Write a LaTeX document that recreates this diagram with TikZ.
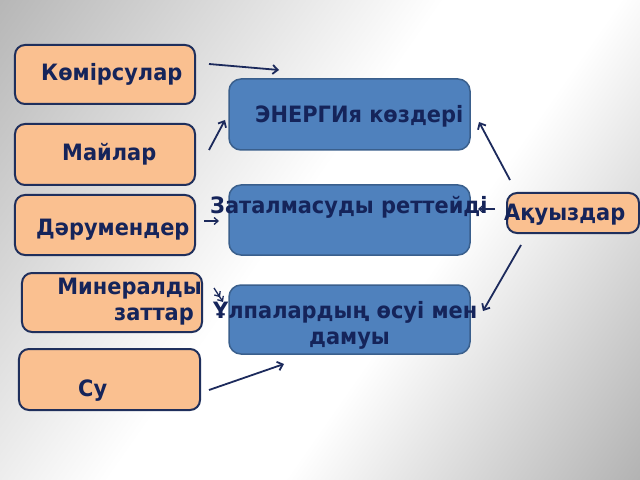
\documentclass[tikz,border=0pt]{standalone}
\usepackage{fontspec}
\setmainfont{DejaVu Sans}[FakeStretch=0.93]
\usetikzlibrary{arrows.meta}
\definecolor{txt}{HTML}{15245A}
\definecolor{peach}{HTML}{FAC090}
\definecolor{peachline}{HTML}{1F2F5C}
\definecolor{bluefill}{HTML}{4F81BD}
\definecolor{blueline}{HTML}{3A5F8C}
\definecolor{arr}{HTML}{1C2A5C}
\definecolor{bgA}{HTML}{B4B4B4}
\definecolor{bgB}{HTML}{9C9C9C}
\pgfdeclarehorizontalshading{bgband}{100bp}{color(0bp)=(bgA); color(25bp)=(bgA); color(46bp)=(white); color(54bp)=(white); color(75bp)=(bgB); color(100bp)=(bgB)}
\begin{document}
\begin{tikzpicture}[x=1bp,y=-1bp,
  pbox/.style={draw=peachline, line width=2bp, fill=peach, rounded corners=10bp, inner sep=0pt},
  bbox/.style={draw=blueline, line width=1.5bp, fill=bluefill, rounded corners=12bp, inner sep=0pt},
  lbl/.style={text=txt, font=\fontsize{22.5bp}{26bp}\selectfont\bfseries, inner sep=0pt},
  con/.style={draw=arr, line width=1.8bp, -{Straight Barb[length=5bp,width=9bp]}},
  smallcon/.style={draw=arr, line width=1.3bp, -{Straight Barb[length=4bp,width=7bp]}}]
\useasboundingbox (0,0) rectangle (640,480);
\begin{scope}
\clip (0,0) rectangle (640,480);
\begin{scope}[transform canvas={rotate around={-35:(350,260)}}]
\shade[shading=bgband] (-100,-190) rectangle (800,710);
\end{scope}
\end{scope}
% boxes
\node[pbox, minimum width=180bp, minimum height=59bp] (k) at (105,74.5) {};
\node[pbox, minimum width=180bp, minimum height=61bp] (m) at (105,154.5) {};
\node[pbox, minimum width=180bp, minimum height=60bp] (d) at (105,225) {};
\node[pbox, minimum width=180bp, minimum height=59bp] (mz) at (112,302.5) {};
\node[pbox, minimum width=181bp, minimum height=61bp] (su) at (109.5,379.5) {};
\node[bbox, minimum width=241bp, minimum height=71bp] (en) at (349.5,114.5) {};
\node[bbox, minimum width=241bp, minimum height=70bp] (zt) at (349.5,220) {};
\node[bbox, minimum width=241bp, minimum height=69bp] (ul) at (349.5,319.5) {};
\node[pbox, minimum width=132bp, minimum height=40bp] (aq) at (573,213) {};
% arrow end points
\coordinate (a1s) at (209,64);  \coordinate (a1e) at (279,70);
\coordinate (a2s) at (209,150); \coordinate (a2e) at (225,120);
\coordinate (a3s) at (204,221); \coordinate (a3e) at (219,221);
\coordinate (a4s) at (214,288); \coordinate (a4e) at (223,302);
\coordinate (a5s) at (209,390); \coordinate (a5e) at (284,364);
\coordinate (a6s) at (510,180); \coordinate (a6e) at (479,122);
\coordinate (a7s) at (495,209); \coordinate (a7e) at (478,209);
\coordinate (a8s) at (521,245); \coordinate (a8e) at (483,311);
% labels
\node[lbl, anchor=base west] (tk) at (41,81) {Көмірсулар};
\node[lbl, anchor=base west] (tm) at (62,161) {Майлар};
\node[lbl, anchor=base west] (td) at (36,236) {Дәрумендер};
\node[lbl, anchor=base east] (tmz1) at (202,294) {Минералды};
\node[lbl, anchor=base east] (tmz2) at (194,320) {заттар};
\node[lbl, anchor=base west] (tsu) at (78,396) {Су};
\node[lbl, anchor=base west] (ten) at (255,123) {ЭНЕРГИя көздері};
\node[lbl, anchor=base west] (tzt) at (210,214) {Заталмасуды реттейді};
\node[lbl, anchor=base west] (tul1) at (213,318) {Ұлпалардың өсуі мен};
\node[lbl, anchor=base west] (tul2) at (309,344) {дамуы};
\node[lbl, anchor=base west] (taq) at (504,221) {Ақуыздар};
% connectors
\draw[con] (a1s) -- (a1e);
\draw[con] (a2s) -- (a2e);
\draw[smallcon] (a3s) -- (a3e);
\draw[smallcon, -{Straight Barb[length=4bp,width=7bp]Straight Barb[length=4bp,width=7bp]}] (a4s) -- (a4e);
\draw[con] (a5s) -- (a5e);
\draw[con] (a6s) -- (a6e);
\draw[smallcon] (a7s) -- (a7e);
\draw[con] (a8s) -- (a8e);
\end{tikzpicture}
\end{document}
